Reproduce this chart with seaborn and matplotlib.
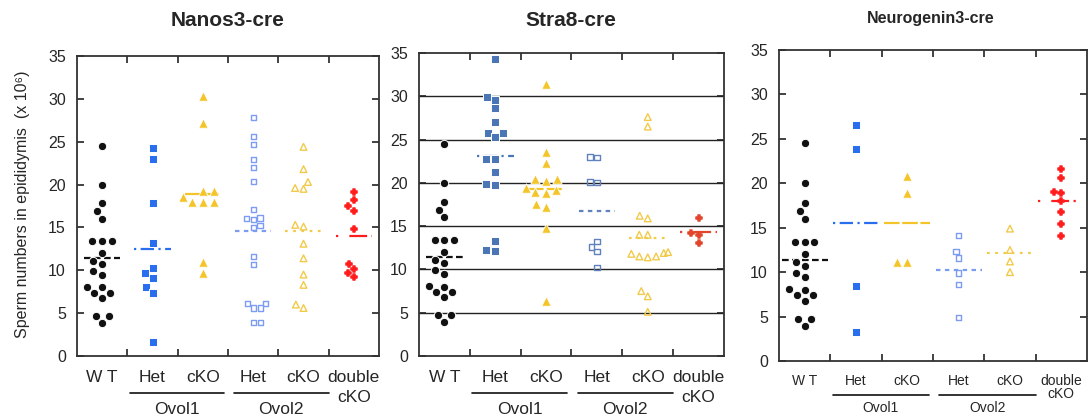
import numpy as np
import pandas as pd
import matplotlib
matplotlib.use("Agg")
import matplotlib.pyplot as plt
import seaborn as sns
from matplotlib.transforms import blended_transform_factory

# ---------------- data ----------------
groups = ["WT", "Het1", "cKO1", "Het2", "cKO2", "double"]
group_labels = ["W T", "Het", "cKO", "Het", "cKO", "double"]
y_ticks = [0, 5, 10, 15, 20, 25, 30, 35]
panel_titles = ["Nanos3-cre", "Stra8-cre", "Neurogenin3-cre"]
ylabel_text = "Sperm numbers in epididymis  (x 10\u2076)"

wt = [24.5, 20.0, 17.8, 16.9, 16.0, 13.4, 13.4, 13.4, 12.0, 11.1, 10.7,
      9.9, 9.5, 8.0, 8.1, 7.4, 7.4, 6.8, 4.7, 4.7, 3.9]

nanos3_het1 = [24.3, 23.0, 17.8, 13.2, 10.3, 9.7, 9.1, 8.0, 7.3, 1.6]
nanos3_cko1 = [30.3, 27.2, 19.3, 19.2, 18.5, 18.0, 18.0, 18.0, 11.0, 9.7]
nanos3_het2 = [27.8, 25.6, 24.7, 22.9, 22.0, 20.4, 17.1, 16.1, 15.9, 16.0,
               15.2, 15.0, 11.6, 10.7, 6.1, 5.6, 5.6, 6.1, 3.9, 3.9]
nanos3_cko2 = [24.4, 21.8, 20.3, 19.6, 19.5, 15.1, 15.3, 13.1, 11.4, 9.5,
               8.3, 6.0, 5.6]
nanos3_double = [19.1, 18.2, 17.5, 16.9, 14.8, 10.7, 9.7, 10.1, 9.2]

stra8_het1 = [34.3, 29.9, 29.6, 28.6, 27.0, 25.8, 25.8, 25.3, 22.8, 22.8,
              21.3, 19.9, 19.8, 13.3, 12.2, 12.1]
stra8_cko1 = [31.4, 23.6, 22.3, 20.4, 20.4, 20.2, 19.2, 19.4, 18.8, 18.9,
              17.5, 17.2, 14.8, 6.4]
stra8_het2 = [22.9, 23.0, 20.1, 20.0, 12.6, 12.1, 13.2, 10.2]
stra8_cko2 = [27.6, 26.5, 16.2, 15.9, 14.0, 14.0, 11.9, 11.5, 12.0, 11.5,
              11.4, 11.8, 7.5, 6.9, 5.1]
stra8_double = [15.9, 14.2, 14.0, 13.0]

ngn3_het1 = [26.6, 23.9, 8.4, 3.3]
ngn3_cko1 = [20.8, 18.9, 11.1, 11.1]
ngn3_het2 = [14.1, 12.3, 11.6, 9.9, 8.6, 4.9]
ngn3_cko2 = [14.9, 12.5, 11.2, 10.0]
ngn3_double = [21.6, 20.6, 19.0, 18.9, 18.0, 16.8, 15.4, 14.1]

panel_values = [
    [wt, nanos3_het1, nanos3_cko1, nanos3_het2, nanos3_cko2, nanos3_double],
    [wt, stra8_het1, stra8_cko1, stra8_het2, stra8_cko2, stra8_double],
    [wt, ngn3_het1, ngn3_cko1, ngn3_het2, ngn3_cko2, ngn3_double],
]

# ---------------- style ----------------
sns.set_style("white")
plt.rcParams["font.family"] = ["Liberation Sans", "DejaVu Sans"]
narrow = ["Liberation Sans Narrow", "Liberation Sans", "DejaVu Sans"]

panel_colors = [
    ["#111111", "#2a6ef0", "#f4c52a", "#7c9cf2", "#f2ca4a", "#ff1c1c"],
    ["#111111", "#4a76b6", "#f4c52a", "#5f82bd", "#f2ca4a", "#e2452c"],
    ["#111111", "#2a6ef0", "#f4c52a", "#7c9cf2", "#f2ca4a", "#ff1c1c"],
]
markers = ["o", "s", "^", "s", "^", "P"]
marker_sizes = [6.0, 5.4, 6.8, 3.8, 4.8, 4.2]
edge_widths = [0.7, 0.7, 0.6, 1.0, 1.0, 1.1]
# edge style: "white" gap edge, "open" hollow marker, "same" thickened solid
edge_style = ["white", "white", "white", "open", "open", "same"]
mean_dashes = [(3, 1.5), (1, 2, 6, 2), (7, 1.2), (2, 2), (1.2, 2.5), (1, 5, 8, 2)]
mean_half_width = [0.36, 0.36, 0.45]

axes_pos = [
    [0.0706, 0.1463, 0.2768, 0.7194],
    [0.3840, 0.1463, 0.2796, 0.7266],
    [0.7140, 0.1343, 0.2823, 0.7458],
]

fig = plt.figure(figsize=(10.91, 4.17), dpi=100)

for p in range(3):
    ax = fig.add_axes(axes_pos[p])
    cols = panel_colors[p]
    hw = mean_half_width[p]
    for i, g in enumerate(groups):
        vals = panel_values[p][i]
        df = pd.DataFrame({"group": [g] * len(vals), "value": vals})
        n_before = len(ax.collections)
        ec = "white" if edge_style[i] == "white" else cols[i]
        sns.swarmplot(data=df, x="group", y="value", order=groups,
                      color=cols[i], marker=markers[i], size=marker_sizes[i],
                      linewidth=edge_widths[i], edgecolor=ec, ax=ax, zorder=4)
        for coll in ax.collections[n_before:]:
            if edge_style[i] == "open":
                coll.set_facecolor("none")
            coll.set_edgecolor(ec)
            coll.set_linewidth(edge_widths[i])
        m = float(np.mean(vals))
        ax.plot([i - hw, i + hw], [m, m], color=cols[i], lw=1.6,
                dashes=mean_dashes[i], zorder=3, solid_capstyle="butt")

    ax.set_xlim(-0.5, 5.5)
    ax.set_ylim(0, 35)
    ax.set_xticks([0.5, 1.5, 2.5, 3.5, 4.5])
    ax.set_xticklabels([])
    ax.set_yticks(y_ticks)
    ax.set_yticklabels([str(t) for t in y_ticks], fontsize=11.5)
    ax.tick_params(axis="both", direction="in", length=5, width=1.2,
                   top=True, right=True, bottom=True, left=True, color="#222222")
    ax.tick_params(axis="y", pad=8)
    ax.set_xlabel("")
    ax.set_ylabel("")
    for s in ax.spines.values():
        s.set_linewidth(1.3)
        s.set_color("#333333")
        s.set_visible(True)
    if p == 1:
        for t in y_ticks[1:-1]:
            ax.axhline(t, color="#222222", lw=1.0, zorder=1)

    # category labels below axis
    tr = blended_transform_factory(ax.transData, fig.transFigure)
    if p < 2:
        fs, y_lab, y_lab2, y_line, y_ovol = 12.5, 1 - 378 / 417, 1 - 397 / 417, 1 - 393 / 417, 1 - 409 / 417
    else:
        fs, y_lab, y_lab2, y_line, y_ovol = 10, 1 - 381 / 417, 1 - 394 / 417, 1 - 395 / 417, 1 - 408 / 417
    for i, lab in enumerate(group_labels):
        ax.text(i, y_lab, lab, transform=tr, ha="center", va="center",
                fontsize=fs, family=narrow, clip_on=False)
    ax.text(5, y_lab2, "cKO", transform=tr, ha="center", va="center",
            fontsize=fs, family=narrow, clip_on=False)
    for (x0, x1), name in zip([(0.55, 2.42), (2.62, 4.5)], ["Ovol1", "Ovol2"]):
        ax.plot([x0, x1], [y_line, y_line], transform=tr, color="#111111",
                lw=1.2, clip_on=False)
        ax.text((x0 + x1) / 2, y_ovol, name, transform=tr, ha="center",
                va="center", fontsize=fs, family=narrow, clip_on=False)

fig.text(228 / 1091, 1 - 20 / 417, panel_titles[0], ha="center", va="center",
         fontsize=15, fontweight="bold", family=narrow)
fig.text(571 / 1091, 1 - 20 / 417, panel_titles[1], ha="center", va="center",
         fontsize=15, fontweight="bold", family=narrow)
fig.text(931 / 1091, 1 - 18 / 417, panel_titles[2], ha="center", va="center",
         fontsize=11.5, fontweight="bold", family=narrow)
fig.text(23 / 1091, 1 - 204 / 417, ylabel_text, rotation=90, ha="center",
         va="center", fontsize=11.5)

fig.savefig("out.png", dpi=100)
